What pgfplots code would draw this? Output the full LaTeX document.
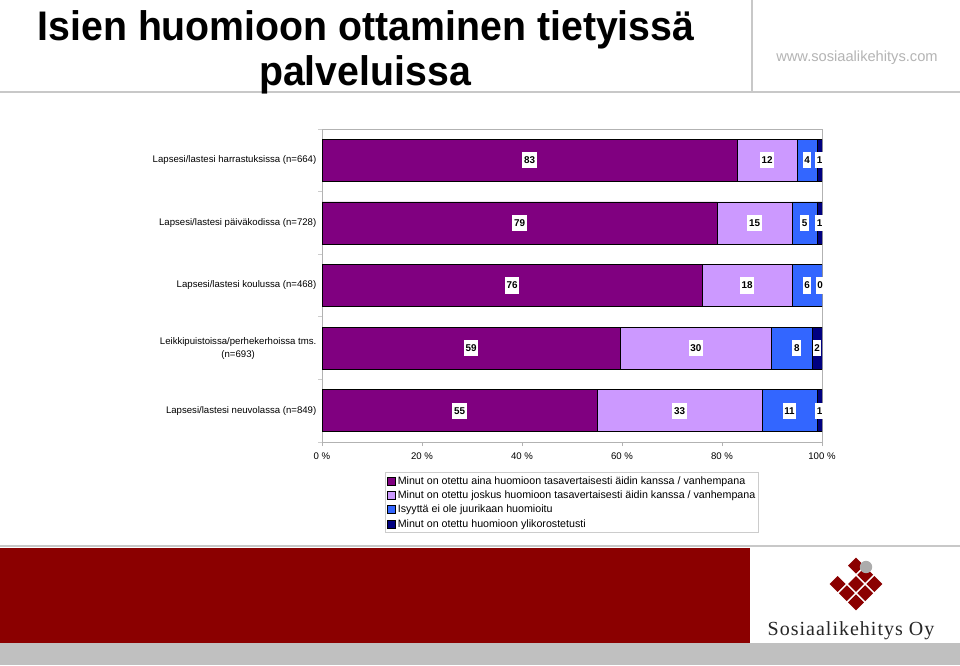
\documentclass[border=0pt]{standalone}
\usepackage{pgfplots}
\pgfplotsset{compat=1.18}
\usepackage{pgfplotstable}
\usepackage{fontspec}
\setmainfont{Liberation Sans}
\newfontfamily\logofont[LetterSpace=5]{Liberation Serif}
\definecolor{cA}{HTML}{800080}
\definecolor{cB}{HTML}{CC99FF}
\definecolor{cC}{HTML}{3366FF}
\definecolor{cD}{HTML}{000080}
\definecolor{darkred}{HTML}{8B0000}
\definecolor{bandgray}{HTML}{C0C0C0}
\definecolor{linegray}{HTML}{C8C8C8}
\definecolor{urlgray}{HTML}{B4B4B4}

\pgfplotstableread{
cat a b c d
0 83 12 4 1
1 79 15 5 1
2 76 18 6 0
3 59.6 30.3 8.1 2.0
4 55 33 11 1
}\bars

\pgfplotstableread{
cat x lab
0 41.5 83
0 89 12
0 97 4
0 99.5 1
1 39.5 79
1 86.5 15
1 96.5 5
1 99.5 1
2 38 76
2 85 18
2 97 6
2 99.6 0
3 29.8 59
3 74.75 30
3 94.95 8
3 99 2
4 27.5 55
4 71.5 33
4 93.5 11
4 99.5 1
}\labels

\begin{document}
\begin{tikzpicture}
\path[use as bounding box, fill=white] (0,0) rectangle (720pt,498.75pt);
\begin{scope}[x=0.75pt, y=-0.75pt, yshift=498.75pt]
  % header lines
  \draw[linegray, line width=1.5pt] (0,92) -- (960,92);
  \draw[linegray, line width=0.8pt] (752,0) -- (752,92);
  % title
  \node[anchor=base, inner sep=0pt, xscale=0.95, font=\fontsize{31}{34}\selectfont\bfseries] at (366,41) {Isien huomioon ottaminen tietyissä};
  \node[anchor=base, inner sep=0pt, xscale=0.95, font=\fontsize{31}{34}\selectfont\bfseries] at (365,86) {palveluissa};
  \node[anchor=base, inner sep=0pt, text=urlgray, font=\fontsize{11}{13}\selectfont] at (857,62) {www.sosiaalikehitys.com};
  % footer
  \draw[linegray, line width=1.5pt] (0,546) -- (960,546);
  \fill[darkred] (0,548) rectangle (750,643);
  \fill[bandgray] (0,643) rectangle (960,665);
  % logo
  \begin{scope}[shift={(856,584)}, rotate=45]
    \foreach \i/\j in {-1/-1,-1/0,-1/1,0/0,0/1,1/-1,1/0,1/1}{
      \fill[darkred] ({\i*13-5.6},{\j*13-5.6}) rectangle ++(11.2,11.2);
    }
  \end{scope}
  \fill[gray!65] (866,567) circle (6.2);
  \node[anchor=base, inner sep=0pt, text=black!85, font=\logofont\fontsize{15}{16}\selectfont] at (851,635) {Sosiaalikehitys Oy};
\end{scope}

\begin{axis}[
  at={(241.5pt,167.25pt)}, anchor=south west,
  scale only axis, width=375pt, height=234.75pt,
  xbar stacked, bar width=31.5pt,
  xmin=0, xmax=100, ymin=-0.5, ymax=4.5, y dir=reverse,
  axis line style={gray!60, line width=0.6pt},
  tick align=outside, major tick length=3pt, minor tick length=3pt,
  xtick pos=bottom, ytick pos=left,
  xtick={0,20,...,100},
  xticklabels={0 \%,20 \%,40 \%,60 \%,80 \%,100 \%},
  xtick style={gray!60, line width=0.5pt},
  ytick={0,1,2,3,4},
  yticklabels={{Lapsesi/lastesi harrastuksissa (n=664)},{Lapsesi/lastesi päiväkodissa (n=728)},{Lapsesi/lastesi koulussa (n=468)},{Leikkipuistoissa/perhekerhoissa tms.\\(n=693)},{Lapsesi/lastesi neuvolassa (n=849)}},
  major y tick style={draw=none},
  minor ytick={-0.5,0.5,1.5,2.5,3.5,4.5},
  minor y tick style={gray!40, line width=0.5pt},
  yticklabel style={align=center, xshift=2.25pt, font=\fontsize{7.2}{9.75}\selectfont},
  xticklabel style={yshift=-1.5pt, font=\fontsize{7.2}{9}\selectfont},
  legend cell align=left,
  legend image code/.code={\draw[#1, draw=black, line width=0.3pt] (0pt,-3pt) rectangle (6pt,3pt);},
  legend style={at={(0.126,-0.096)}, anchor=north west, draw=gray!40, inner sep=1pt, column sep=1.2pt,
    font=\fontsize{8}{9.6}\selectfont, nodes={inner sep=0.9pt, text height=7pt, text depth=2pt}},
]
\addplot[fill=cA, draw=black, line width=0.4pt] table[x=a, y=cat]{\bars};
\addplot[fill=cB, draw=black, line width=0.4pt] table[x=b, y=cat]{\bars};
\addplot[fill=cC, draw=black, line width=0.4pt] table[x=c, y=cat]{\bars};
\addplot[fill=cD, draw=black, line width=0.4pt] table[x=d, y=cat]{\bars};
\legend{Minut on otettu aina huomioon tasavertaisesti äidin kanssa / vanhempana,
Minut on otettu joskus huomioon tasavertaisesti äidin kanssa / vanhempana,
Isyyttä ei ole juurikaan huomioitu,
Minut on otettu huomioon ylikorostetusti}
\end{axis}

\begin{axis}[
  at={(241.5pt,167.25pt)}, anchor=south west,
  scale only axis, width=375pt, height=234.75pt,
  xmin=0, xmax=100, ymin=-0.5, ymax=4.5, y dir=reverse,
  hide axis, clip=false,
]
\addplot[only marks, mark=none, draw=none, nodes near coords, point meta=explicit symbolic,
  nodes near coords align=center,
  nodes near coords style={anchor=center, fill=white, text=black, inner xsep=1.2pt, inner ysep=3.4pt,
    font=\bfseries\fontsize{7.4}{8}\selectfont}]
  table[x=x, y=cat, meta=lab]{\labels};
\end{axis}
\end{tikzpicture}
\end{document}
